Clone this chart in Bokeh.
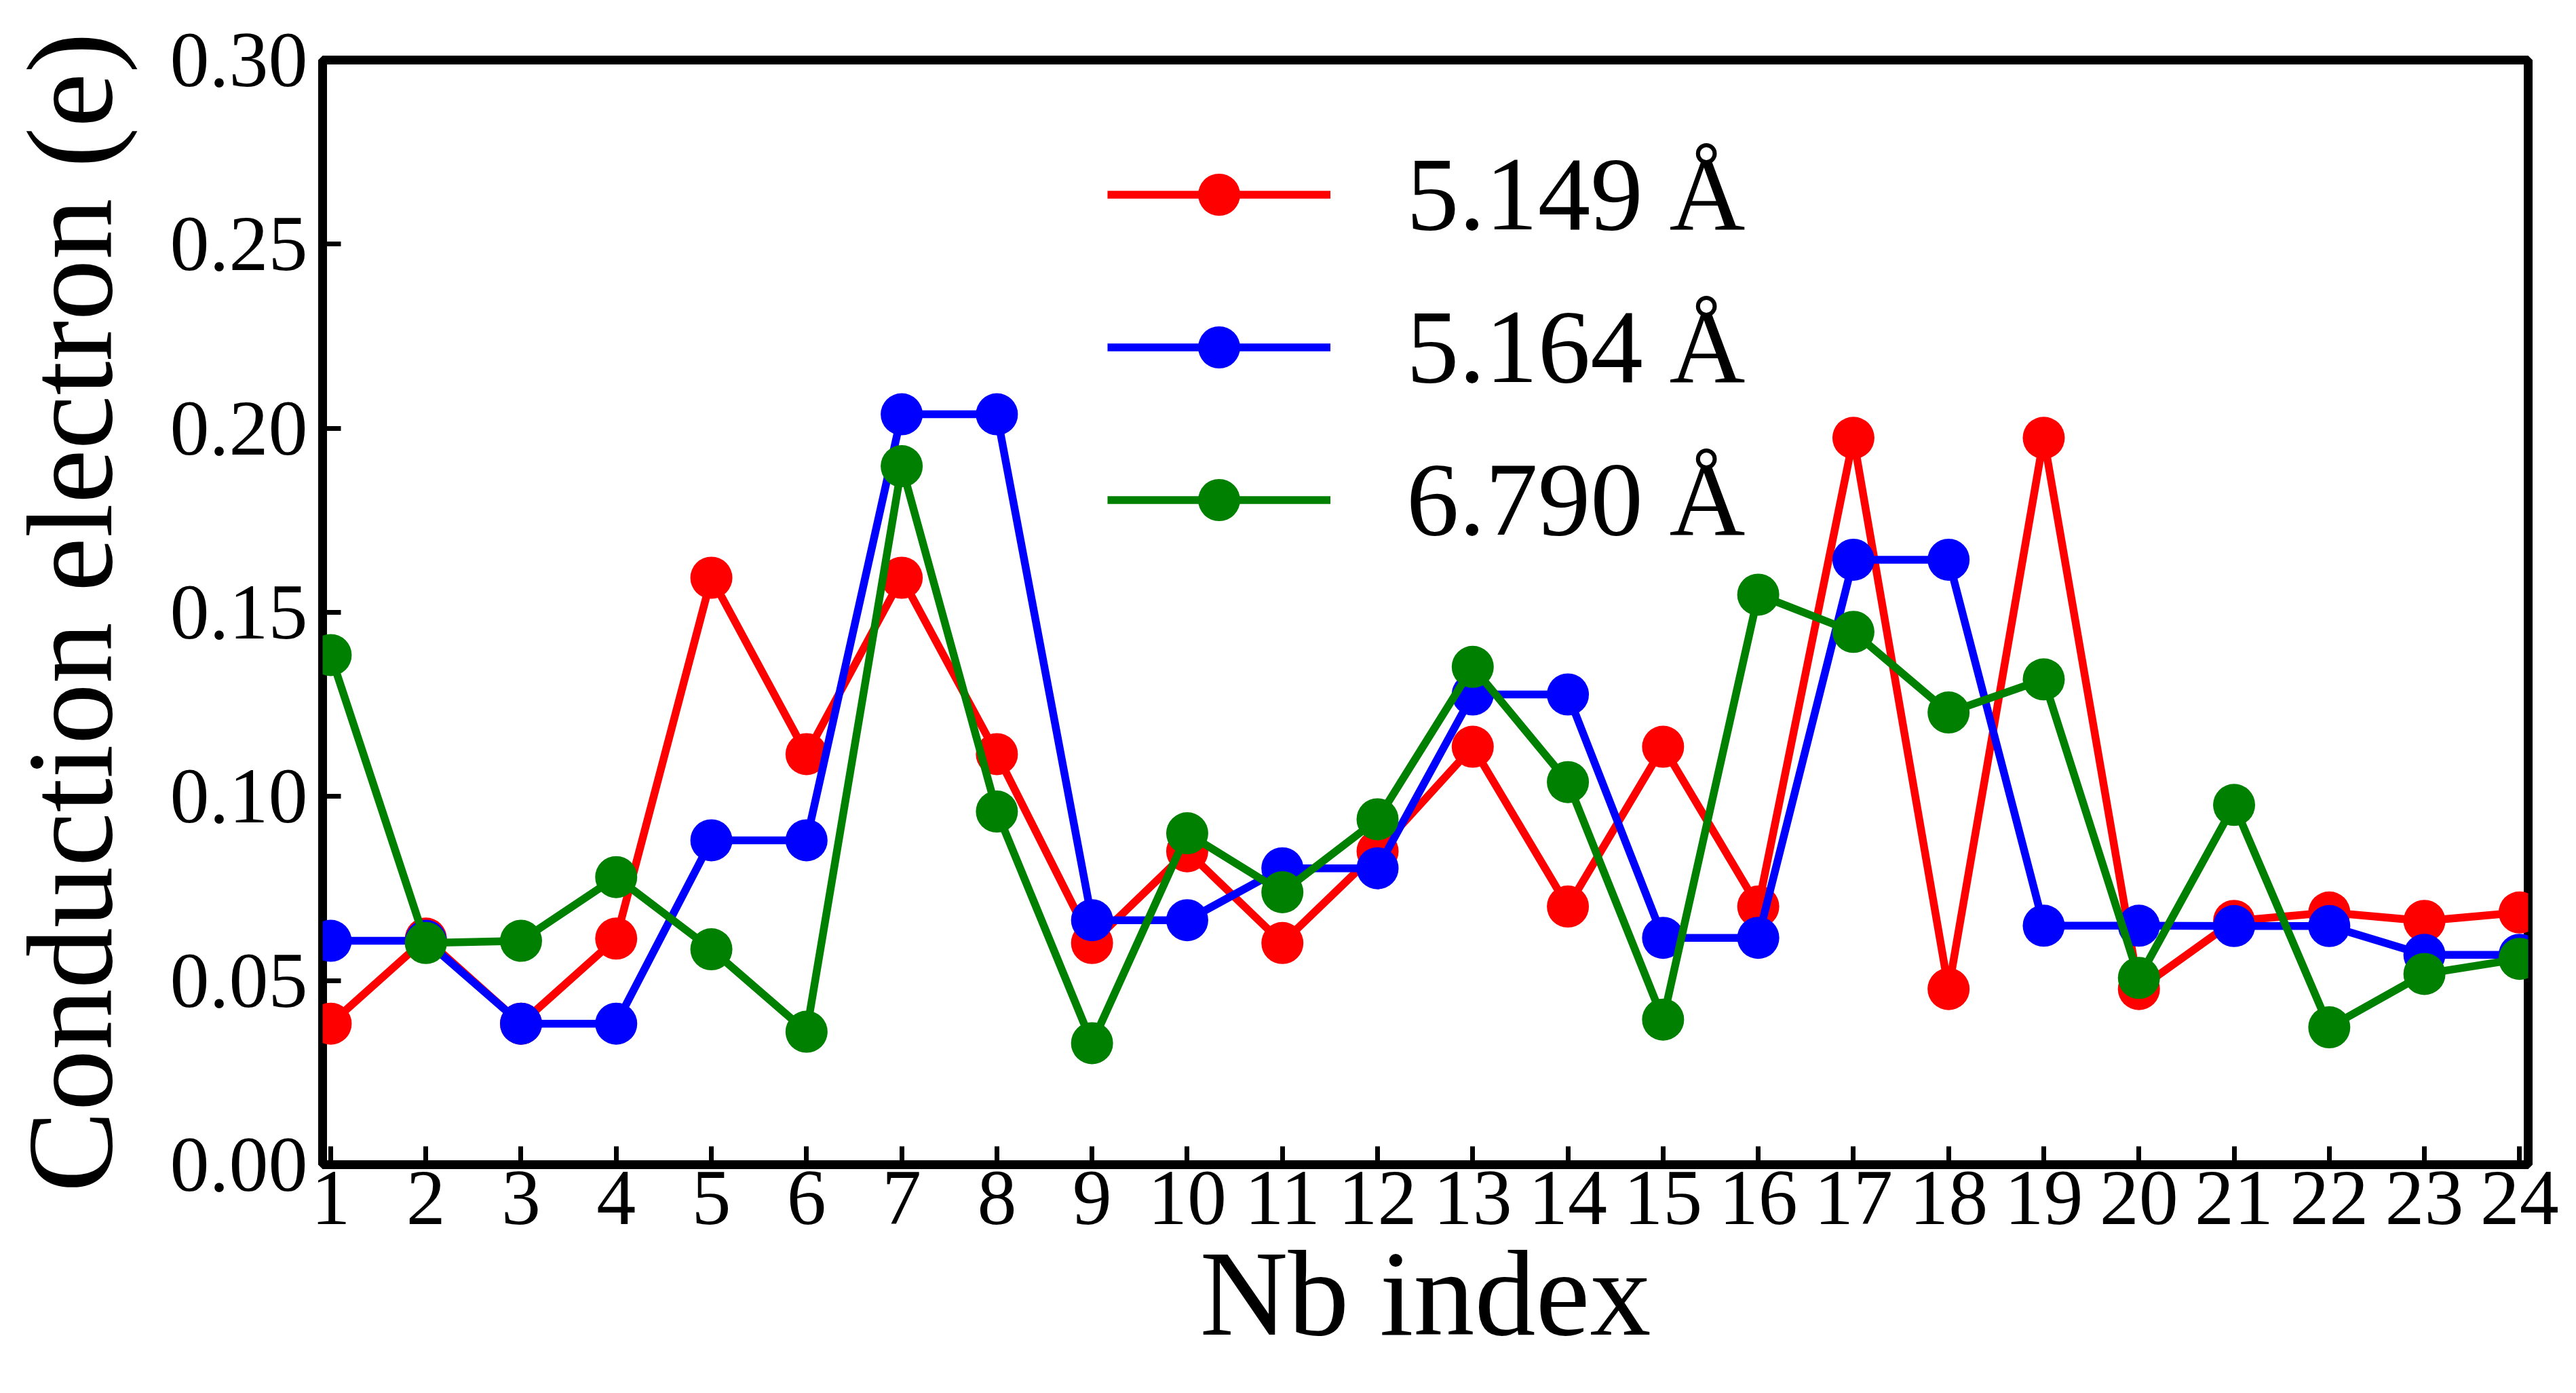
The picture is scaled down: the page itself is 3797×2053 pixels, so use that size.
from bokeh.plotting import figure
from bokeh.models import FixedTicker, PrintfTickFormatter, Legend, LegendItem, Range1d
from bokeh.embed import file_html
from bokeh.resources import INLINE

# Nb site index along the x axis
nb_index = list(range(1, 25))
x_ticks = list(range(1, 25))
y_ticks = [0.00, 0.05, 0.10, 0.15, 0.20, 0.25, 0.30]

# Conduction electrons per Nb site for three lattice spacings
cond_5149 = [0.0383, 0.0614, 0.0383, 0.0614, 0.1594, 0.1115, 0.1594, 0.1115,
             0.0602, 0.0851, 0.0602, 0.0851, 0.1135, 0.0701, 0.1135, 0.0701,
             0.1974, 0.0477, 0.1974, 0.0477, 0.0662, 0.0685, 0.0662, 0.0685]
cond_5164 = [0.0608, 0.0608, 0.0383, 0.0383, 0.0881, 0.0881, 0.2038, 0.2038,
             0.0664, 0.0664, 0.0805, 0.0805, 0.1277, 0.1277, 0.0616, 0.0616,
             0.1643, 0.1643, 0.0649, 0.0649, 0.0648, 0.0648, 0.0570, 0.0570]
cond_6790 = [0.1384, 0.0602, 0.0608, 0.0781, 0.0585, 0.0361, 0.1897, 0.0959,
             0.0330, 0.0900, 0.0740, 0.0938, 0.1352, 0.1039, 0.0394, 0.1548,
             0.1447, 0.1228, 0.1318, 0.0507, 0.0977, 0.0373, 0.0518, 0.0559]

series_labels = ["5.149 Å", "5.164 Å", "6.790 Å"]
series_colors = ["#ff0000", "#0000ff", "#008000"]
series_values = [cond_5149, cond_5164, cond_6790]

FONT = "Liberation Serif"

p = figure(
    width=3797, height=2053,
    output_backend="svg", toolbar_location=None,
    x_range=Range1d(0.915, 24.09), y_range=Range1d(0.0, 0.30),
    min_border_left=472, min_border_right=71,
    min_border_top=88, min_border_bottom=337,
)
p.background_fill_color = "white"
p.border_fill_color = "white"
p.grid.visible = False
p.outline_line_color = "black"
p.outline_line_width = 13
p.outline_line_alpha = 1.0

p.xaxis.ticker = FixedTicker(ticks=x_ticks)
p.yaxis.ticker = FixedTicker(ticks=y_ticks)
p.yaxis.formatter = PrintfTickFormatter(format="%.2f")

for ax in (p.xaxis[0], p.yaxis[0]):
    ax.axis_line_color = None
    ax.major_tick_in = 27
    ax.major_tick_out = 0
    ax.major_tick_line_width = 7
    ax.major_tick_line_color = "black"
    ax.minor_tick_line_color = None
    ax.major_label_text_font = FONT
    ax.major_label_text_font_size = "116px"
    ax.major_label_text_color = "black"
    ax.axis_label_text_font = FONT
    ax.axis_label_text_font_size = "180px"
    ax.axis_label_text_font_style = "normal"
    ax.axis_label_text_color = "black"

p.xaxis.axis_label = "Nb index"
p.yaxis.axis_label = "Conduction electron (e)"
p.xaxis.major_label_standoff = 10
p.yaxis.major_label_standoff = 22
p.xaxis.axis_label_standoff = 0
p.yaxis.axis_label_standoff = 45

items = []
for lab, col, vals in zip(series_labels, series_colors, series_values):
    ln = p.line(nb_index, vals, line_color=col, line_width=11.5)
    sc = p.scatter(nb_index, vals, marker="circle", size=62,
                   fill_color=col, line_color=col, line_width=0)
    items.append(LegendItem(label=lab, renderers=[ln, sc]))

legend = Legend(
    items=items, location=(1157, 880),
    glyph_width=329, glyph_height=155, label_height=200,
    spacing=25, label_standoff=112, padding=0, margin=0,
    label_text_font=FONT, label_text_font_size="155px",
    label_text_color="black",
    border_line_alpha=0, background_fill_alpha=0,
)
p.add_layout(legend)

open("out.html", "w").write(file_html(p, INLINE))
